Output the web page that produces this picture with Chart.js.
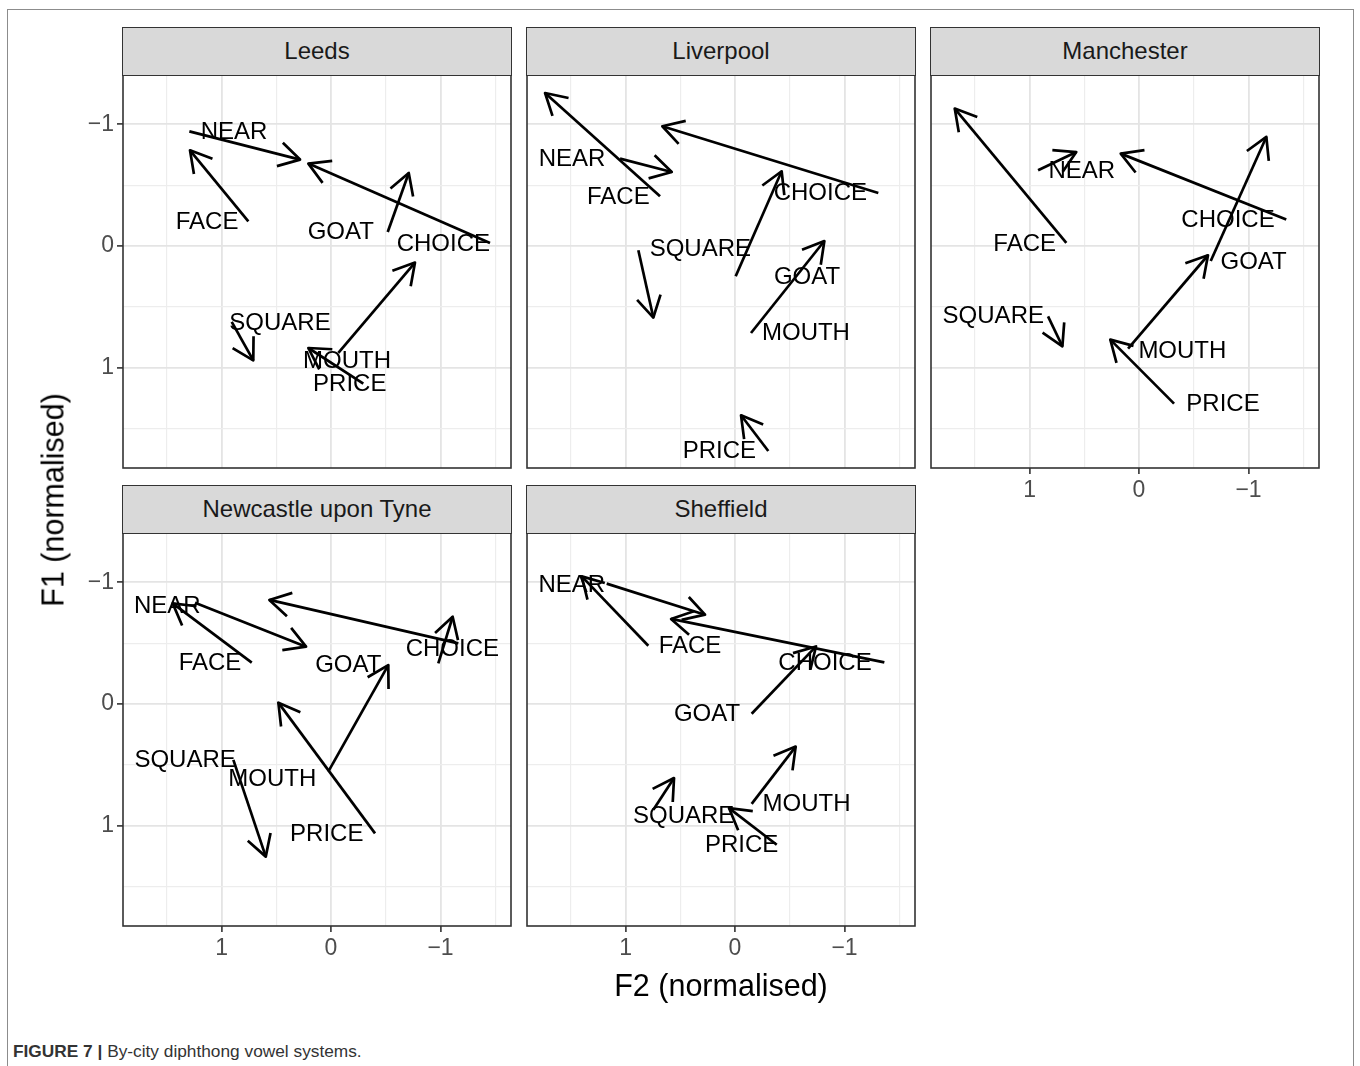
<!DOCTYPE html>
<html>
<head>
<meta charset="utf-8">
<title>By-city diphthong vowel systems</title>
<script src="https://cdn.jsdelivr.net/npm/chart.js@4/dist/chart.umd.min.js"></script>
<style>
  html, body { margin: 0; padding: 0; background: #fff; }
  body { width: 1360px; height: 1066px; position: relative; overflow: hidden;
         font-family: "Liberation Sans", Arial, Helvetica, sans-serif; }
  .frame { position: absolute; left: 7px; top: 9px; width: 1347px; height: 1100px;
           border: 1.5px solid #8c8c8c; border-bottom: none; box-sizing: border-box; }
  .strip { position: absolute; background: #d9d9d9; border: 1.6px solid #333;
           box-sizing: border-box; color: #1a1a1a; font-size: 24px; text-align: center;
           line-height: 45px; white-space: nowrap; }
  canvas { position: absolute; }
  .axis-title { position: absolute; font-size: 30.5px; color: #000; white-space: nowrap;
                transform: translate(-50%, -50%); }
  .axis-title.y { transform: translate(-50%, -50%) rotate(-90deg); }
  .caption { position: absolute; left: 13px; top: 1041px; font-size: 17.3px; color: #333;
             white-space: nowrap; font-family: "Liberation Sans Narrow", "Liberation Sans", Arial, sans-serif; }
  .caption b { font-weight: bold; }
</style>
</head>
<body>
<div class="frame"></div>
<div id="stage"></div>
<div class="axis-title y" style="left:53px; top:500px;">F1 (normalised)</div>
<div class="axis-title" style="left:721px; top:985px;">F2 (normalised)</div>
<div class="caption"><b>FIGURE 7 |</b> By-city diphthong vowel systems.</div>

<script>
// Vowel classes, in the same order as every per-city array below
const vowels = ['NEAR', 'FACE', 'GOAT', 'CHOICE', 'SQUARE', 'MOUTH', 'PRICE'];
const cities = ['Leeds', 'Liverpool', 'Manchester', 'Newcastle upon Tyne', 'Sheffield'];

// Axis ticks (labelled majors and unlabelled minors)
const majorTicks = [-1, 0, 1];
const minorTicks = [-1.5, -0.5, 0.5, 1.5];

// Leeds: trajectory onset (start) and offset (end), plus label anchor
const leedsF2Start = [1.294, 0.755, -0.518, -1.452, 0.907, -0.067, -0.295];
const leedsF1Start = [-0.942, -0.203, -0.115, -0.025, 0.624, 0.879, 1.131];
const leedsF2End   = [0.283, 1.288, -0.710, 0.207, 0.710, -0.767, 0.207];
const leedsF1End   = [-0.710, -0.786, -0.600, -0.677, 0.939, 0.136, 0.838];
const leedsLabelF2 = [0.886, 1.132, -0.089, -1.026, 0.466, -0.146, -0.171];
const leedsLabelF1 = [-0.932, -0.197, -0.110, -0.014, 0.638, 0.945, 1.137];

// Liverpool
const liverpoolF2Start = [1.050, 0.685, -0.006, -1.309, 0.883, -0.146, -0.304];
const liverpoolF1Start = [-0.718, -0.408, 0.249, -0.436, 0.035, 0.715, 1.684];
const liverpoolF2End   = [0.578, 1.735, -0.426, 0.664, 0.746, -0.816, -0.055];
const liverpoolF1End   = [-0.608, -1.257, -0.614, -0.984, 0.588, -0.041, 1.391];
const liverpoolLabelF2 = [1.489, 1.066, -0.658, -0.779, 0.317, -0.648, 0.143];
const liverpoolLabelF1 = [-0.712, -0.398, 0.254, -0.433, 0.030, 0.720, 1.687];

// Manchester
const manchesterF2Start = [0.922, 0.664, -0.655, -1.345, 0.831, 0.100, -0.320];
const manchesterF1Start = [-0.622, -0.025, 0.123, -0.217, 0.578, 0.843, 1.295];
const manchesterF2End   = [0.573, 1.683, -1.163, 0.167, 0.700, -0.630, 0.262];
const manchesterF1End   = [-0.772, -1.129, -0.896, -0.759, 0.824, 0.076, 0.769];
const manchesterLabelF2 = [0.523, 1.044, -1.047, -0.813, 1.331, -0.396, -0.767];
const manchesterLabelF1 = [-0.616, -0.014, 0.134, -0.214, 0.578, 0.863, 1.303];

// Newcastle upon Tyne
const newcastleF2Start = [1.242, 0.724, -0.980, -1.163, 0.892, 0.025, -0.402];
const newcastleF1Start = [-0.832, -0.340, -0.334, -0.498, 0.459, 0.556, 1.063];
const newcastleF2End   = [0.228, 1.446, -1.111, 0.563, 0.596, -0.523, 0.481];
const newcastleF1End   = [-0.471, -0.827, -0.717, -0.855, 1.254, -0.320, -0.011];
const newcastleLabelF2 = [1.495, 1.105, -0.158, -1.108, 1.333, 0.536, 0.039];
const newcastleLabelF1 = [-0.803, -0.331, -0.315, -0.446, 0.460, 0.622, 1.071];

// Sheffield
const sheffieldF2Start = [1.172, 0.792, -0.152, -1.364, 0.746, -0.152, -0.381];
const sheffieldF1Start = [-0.989, -0.479, 0.080, -0.342, 0.869, 0.820, 1.156];
const sheffieldF2End   = [0.274, 1.400, -0.740, 0.584, 0.557, -0.554, 0.055];
const sheffieldF1End   = [-0.734, -1.049, -0.473, -0.699, 0.608, 0.350, 0.855];
const sheffieldLabelF2 = [1.491, 0.411, 0.256, -0.822, 0.469, -0.654, -0.061];
const sheffieldLabelF1 = [-0.977, -0.473, 0.088, -0.331, 0.926, 0.822, 1.164];

const cityData = {
  'Leeds': { f2s: leedsF2Start, f1s: leedsF1Start, f2e: leedsF2End, f1e: leedsF1End, lx: leedsLabelF2, ly: leedsLabelF1 },
  'Liverpool': { f2s: liverpoolF2Start, f1s: liverpoolF1Start, f2e: liverpoolF2End, f1e: liverpoolF1End, lx: liverpoolLabelF2, ly: liverpoolLabelF1 },
  'Manchester': { f2s: manchesterF2Start, f1s: manchesterF1Start, f2e: manchesterF2End, f1e: manchesterF1End, lx: manchesterLabelF2, ly: manchesterLabelF1 },
  'Newcastle upon Tyne': { f2s: newcastleF2Start, f1s: newcastleF1Start, f2e: newcastleF2End, f1e: newcastleF1End, lx: newcastleLabelF2, ly: newcastleLabelF1 },
  'Sheffield': { f2s: sheffieldF2Start, f1s: sheffieldF1Start, f2e: sheffieldF2End, f1e: sheffieldF1End, lx: sheffieldLabelF2, ly: sheffieldLabelF1 }
};

// ---- layout of the facet grid ----
const FONT = '"Liberation Sans", Arial, Helvetica, sans-serif';
const PLOT_W = 388, PLOT_H = 393, PAD = 3, Y_AXIS_W = 62, X_AXIS_H = 40, STRIP_H = 49;
const colLeft = [123, 527, 931];
const rowTop = [75, 533];
const X_RANGE = { min: -1.644, max: 1.90 };
const Y_RANGE = { min: -1.405, max: 1.824 };
const HEAD_LEN = 24, HEAD_ANGLE = Math.PI / 6;

const panels = [
  { city: 'Leeds', col: 0, row: 0, showY: true, showX: false },
  { city: 'Liverpool', col: 1, row: 0, showY: false, showX: false },
  { city: 'Manchester', col: 2, row: 0, showY: false, showX: true },
  { city: 'Newcastle upon Tyne', col: 0, row: 1, showY: true, showX: true },
  { city: 'Sheffield', col: 1, row: 1, showY: false, showX: true }
];

const isMajor = v => majorTicks.includes(v);
const fmtTick = v => isMajor(v) ? (v < 0 ? '\u2212' + Math.abs(v) : String(v)) : '';

// Arrowheads, vowel labels and panel frame
const panelDecor = {
  id: 'panelDecor',
  afterDatasetsDraw(chart, args, opts) {
    const ctx = chart.ctx;
    const d = cityData[opts.city];
    const xs = chart.scales.x, ys = chart.scales.y;
    const area = chart.chartArea;

    ctx.save();
    ctx.beginPath();
    ctx.rect(area.left, area.top, area.right - area.left, area.bottom - area.top);
    ctx.clip();

    ctx.strokeStyle = '#000';
    ctx.lineWidth = 2.7;
    ctx.lineJoin = 'round';
    ctx.lineCap = 'butt';
    chart.data.datasets.forEach((ds, i) => {
      const meta = chart.getDatasetMeta(i);
      const a = meta.data[0], b = meta.data[1];
      const ang = Math.atan2(b.y - a.y, b.x - a.x);
      ctx.beginPath();
      ctx.moveTo(b.x - HEAD_LEN * Math.cos(ang - HEAD_ANGLE), b.y - HEAD_LEN * Math.sin(ang - HEAD_ANGLE));
      ctx.lineTo(b.x, b.y);
      ctx.lineTo(b.x - HEAD_LEN * Math.cos(ang + HEAD_ANGLE), b.y - HEAD_LEN * Math.sin(ang + HEAD_ANGLE));
      ctx.stroke();
    });

    ctx.fillStyle = '#000';
    ctx.font = '24px ' + FONT;
    ctx.textAlign = 'center';
    ctx.textBaseline = 'middle';
    vowels.forEach((v, i) => {
      ctx.fillText(v, xs.getPixelForValue(d.lx[i]), ys.getPixelForValue(d.ly[i]));
    });
    ctx.restore();

    ctx.save();
    ctx.strokeStyle = '#333';
    ctx.lineWidth = 1.6;
    ctx.strokeRect(area.left, area.top, area.right - area.left, area.bottom - area.top);
    ctx.restore();
  }
};

function axisOptions(range, reverse, show, isX) {
  return {
    type: 'linear',
    reverse: reverse,
    min: range.min,
    max: range.max,
    afterBuildTicks: s => {
      s.ticks = majorTicks.concat(minorTicks)
        .filter(v => v >= range.min && v <= range.max)
        .sort((a, b) => a - b)
        .map(v => ({ value: v }));
    },
    afterFit: s => {
      // fixed axis band, no extra room reserved for overhanging labels
      if (isX) s.height = show ? X_AXIS_H : 0;
      else s.width = show ? Y_AXIS_W : 0;
      s.paddingTop = 0; s.paddingBottom = 0;
      s.paddingLeft = 0; s.paddingRight = 0;
    },
    ticks: {
      display: show,
      autoSkip: false,
      maxRotation: 0,
      padding: isX ? 3 : 3,
      color: '#4d4d4d',
      font: { size: 23, family: FONT },
      callback: v => fmtTick(v)
    },
    grid: {
      color: c => isMajor(c.tick.value) ? '#e4e4e4' : '#ededed',
      lineWidth: c => isMajor(c.tick.value) ? 1.8 : 1.2,
      drawTicks: show,
      tickLength: 6,
      tickWidth: 1.6,
      tickColor: c => isMajor(c.tick.value) ? '#333' : 'rgba(0,0,0,0)'
    },
    border: { display: false }
  };
}

const stage = document.getElementById('stage');
panels.forEach(p => {
  const plotLeft = colLeft[p.col], plotTop = rowTop[p.row];
  const yW = p.showY ? Y_AXIS_W : 0;
  const xH = p.showX ? X_AXIS_H : 0;

  const strip = document.createElement('div');
  strip.className = 'strip';
  strip.textContent = p.city;
  strip.style.left = (plotLeft - 1) + 'px';
  strip.style.top = (plotTop - STRIP_H + 1) + 'px';
  strip.style.width = (PLOT_W + 2) + 'px';
  strip.style.height = STRIP_H + 'px';

  const canvas = document.createElement('canvas');
  const w = PAD + yW + PLOT_W + PAD, h = PAD + PLOT_H + xH + PAD;
  canvas.width = w; canvas.height = h;
  canvas.style.width = w + 'px'; canvas.style.height = h + 'px';
  canvas.style.left = (plotLeft - PAD - yW) + 'px';
  canvas.style.top = (plotTop - PAD) + 'px';
  stage.appendChild(canvas);
  stage.appendChild(strip);

  const d = cityData[p.city];
  new Chart(canvas, {
    type: 'scatter',
    data: {
      datasets: vowels.map((v, i) => ({
        label: v,
        data: [{ x: d.f2s[i], y: d.f1s[i] }, { x: d.f2e[i], y: d.f1e[i] }],
        showLine: true,
        borderColor: '#000',
        borderWidth: 2.7,
        pointRadius: 0,
        pointHoverRadius: 0,
        tension: 0,
        fill: false
      }))
    },
    options: {
      responsive: false,
      animation: false,
      events: [],
      layout: { padding: { left: PAD, right: PAD, top: PAD, bottom: PAD } },
      scales: {
        x: axisOptions(X_RANGE, true, p.showX, true),
        y: axisOptions(Y_RANGE, true, p.showY, false)
      },
      plugins: {
        legend: { display: false },
        tooltip: { enabled: false },
        panelDecor: { city: p.city }
      }
    },
    plugins: [panelDecor]
  });
});
</script>
</body>
</html>
